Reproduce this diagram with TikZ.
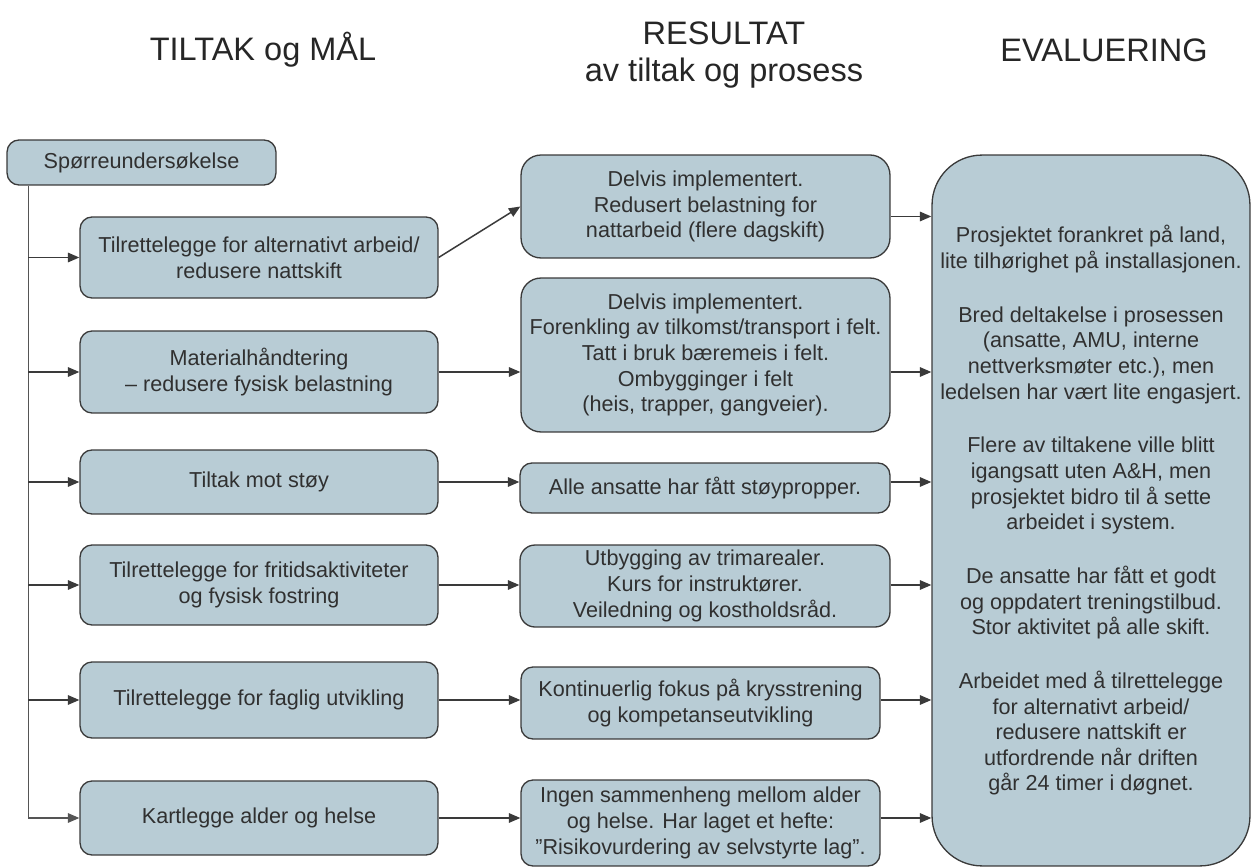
\documentclass[tikz,border=0pt]{standalone}
\usepackage{fontspec}
\setmainfont{Liberation Sans}
\usetikzlibrary{arrows.meta,calc}
\definecolor{boxfill}{HTML}{B8CCD5}
\definecolor{boxline}{HTML}{3A3A3A}
\definecolor{txt}{HTML}{303030}
\definecolor{trunkline}{HTML}{555555}
\begin{document}
\begin{tikzpicture}[x=0.02cm,y=-0.02cm,
  box/.style={draw=boxline, fill=boxfill, line width=0.75pt, rounded corners=0.24cm,
    align=center, inner sep=0pt, text=txt, font=\fontsize{12.3}{14.6}\selectfont},
  leftbox/.style={box, minimum width=7.16cm},
  arr/.style={draw=boxline, line width=0.85pt, -{Triangle[length=0.23cm,width=0.19cm]}},
  title/.style={text=black!85, align=center, font=\fontsize{18.5}{21.5}\selectfont}]

\path[use as bounding box] (0,0) rectangle (1252,868);

% column headings
\node[title] (h1) at (263,50) {TILTAK og MÅL};
\node[title] (h2) at (724,55) {RESULTAT\\av tiltak og prosess};
\node[title] (h3) at (1104,50) {EVALUERING};

% survey box and measures
\node[box, minimum width=5.38cm, minimum height=0.9cm] (spor) at (141.5,162.5) {Spørreundersøkelse};
\node[leftbox, minimum height=1.62cm] (b1) at (259,257.5) {Tilrettelegge for alternativt arbeid/\\redusere nattskift};
\node[leftbox, minimum height=1.64cm] (b2) at (259,372) {Materialhåndtering\\– redusere fysisk belastning};
\node[leftbox, minimum height=1.28cm] (b3) at (259,482) {Tiltak mot støy};
\node[leftbox, minimum height=1.60cm] (b4) at (259,585) {Tilrettelegge for fritidsaktiviteter\\og fysisk fostring};
\node[leftbox, minimum height=1.52cm] (b5) at (259,700) {Tilrettelegge for faglig utvikling};
\node[leftbox, minimum height=1.48cm] (b6) at (259,818) {Kartlegge alder og helse};

% results
\node[box, rounded corners=0.4cm, minimum width=7.38cm, minimum height=2.06cm] (m1) at (705.5,206.5)
  {Delvis implementert.\\Redusert belastning for\\nattarbeid (flere dagskift)};
\node[box, rounded corners=0.4cm, minimum width=7.38cm, minimum height=3.08cm] (m2) at (705.5,355)
  {Delvis implementert.\\Forenkling av tilkomst/transport i felt.\\Tatt i bruk bæremeis i felt.\\Ombygginger i felt\\(heis, trapper, gangveier).};
\node[box, minimum width=7.4cm, minimum height=1.0cm] (m3) at (705,488)
  {Alle ansatte har fått støypropper.};
\node[box, rounded corners=0.3cm, minimum width=7.4cm, minimum height=1.64cm] (m4) at (705,586)
  {Utbygging av trimarealer.\\Kurs for instruktører.\\Veiledning og kostholdsråd.};
\node[box, minimum width=7.18cm, minimum height=1.44cm] (m5) at (700.5,703)
  {Kontinuerlig fokus på krysstrening\\og kompetanseutvikling};
\node[box, minimum width=7.18cm, minimum height=1.72cm] (m6) at (700.5,823)
  {Ingen sammenheng mellom alder\\og helse. Har laget et hefte:\\”Risikovurdering av selvstyrte lag”.};

% evaluation
\node[box, rounded corners=1.0cm, minimum width=6.36cm, minimum height=14.22cm] (ev) at (1091,510.5)
  {Prosjektet forankret på land,\\lite tilhørighet på installasjonen.\\[0.56cm]
   Bred deltakelse i prosessen\\(ansatte, AMU, interne\\nettverksmøter etc.), men\\ledelsen har vært lite engasjert.\\[0.56cm]
   Flere av tiltakene ville blitt\\igangsatt uten A\&H, men\\prosjektet bidro til å sette\\arbeidet i system.\\[0.56cm]
   De ansatte har fått et godt\\og oppdatert treningstilbud.\\Stor aktivitet på alle skift.\\[0.56cm]
   Arbeidet med å tilrettelegge\\for alternativt arbeid/\\redusere nattskift er\\utfordrende når driften\\går 24 timer i døgnet.};

% trunk from the survey to every measure
\coordinate (tk) at ($(spor.south west)+(22,0)$);
\draw[arr, draw=trunkline] (tk) |- (b6.west);
\foreach \b in {b1,b2,b3,b4,b5}
  \draw[arr] (tk |- \b.west) -- (\b.west);

% measures to results
\draw[arr] (b1.east) -- (m1.west);
\foreach \b/\m in {b2/m2,b3/m3,b4/m4,b5/m5,b6/m6}
  \draw[arr] (\b.east) -- (\b.east -| \m.west);

% results to evaluation
\draw[arr] ([yshift=-0.2cm]m1.east) -- ([yshift=-0.2cm]m1.east -| ev.west);
\foreach \b/\m in {b2/m2,b3/m3,b4/m4,b5/m5,b6/m6}
  \draw[arr] (\b.east -| \m.east) -- (\b.east -| ev.west);
\end{tikzpicture}
\end{document}
